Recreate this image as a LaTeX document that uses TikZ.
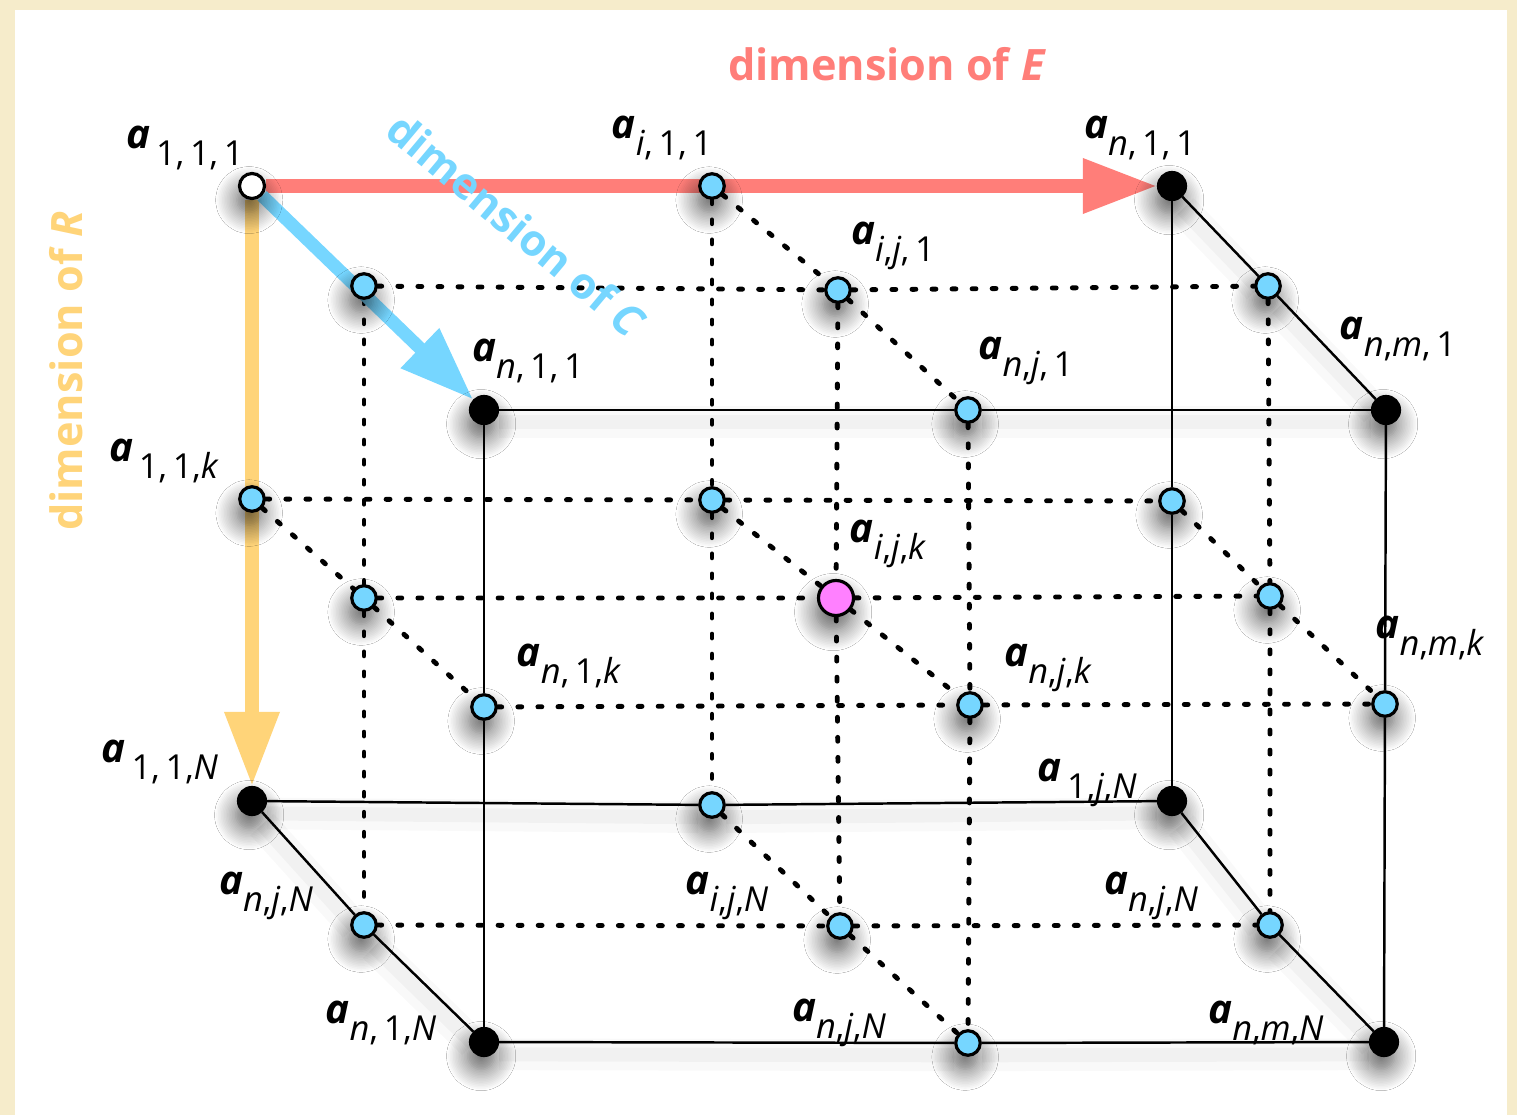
\documentclass[tikz,border=0pt]{standalone}
\usepackage{fontspec}
\setmainfont{Open Sans}
\usepackage{tikz}
\usetikzlibrary{arrows.meta, backgrounds, shadows.blur}
\definecolor{dimE}{HTML}{FF7E79}
\definecolor{dimR}{HTML}{FFD479}
\definecolor{dimC}{HTML}{76D6FF}
\definecolor{cellPink}{HTML}{FF80FF}
\definecolor{paper}{HTML}{F6ECCB}
\newcommand{\elem}[1]{{\fontsize{11.5}{12}\selectfont\bfseries\itshape a}\raisebox{-5pt}{\fontsize{9.8}{10}\selectfont #1}}
\newcommand{\vi}[1]{\textit{#1}}

\begin{document}
\begin{tikzpicture}[
    x=0.01cm, y=-0.01cm,
    ptblue/.style ={circle, draw=black, line width=0.9pt, fill=dimC, minimum size=0.245cm, inner sep=0pt,
                    blur shadow={shadow xshift=-0.8pt, shadow yshift=-4pt, shadow blur radius=6pt,
                                 shadow blur steps=14, shadow opacity=65}},
    ptblack/.style={ptblue, fill=black, minimum size=0.27cm},
    ptwhite/.style={ptblue, fill=white, minimum size=0.25cm},
    ptpink/.style ={ptblue, fill=cellPink, minimum size=0.35cm},
    solidln/.style={line width=0.7pt},
    solidsh/.style={solidln,
                    preaction={draw=black, draw opacity=0.025, line width=9pt, transform canvas={yshift=-3.5pt}},
                    preaction={draw=black, draw opacity=0.03, line width=4pt, transform canvas={yshift=-3.5pt}}},
    dotln/.style  ={line width=1.4pt, dash pattern=on 1.1pt off 4.6pt, line cap=round},
    dimarr/.style ={-{Triangle[length=7.4mm, width=5.2mm]}, line width=1.3mm},
    lbl/.style    ={inner sep=0pt},
    dimlbl/.style ={inner sep=0pt, font=\fontsize{12.3}{14}\selectfont\bfseries},
]
\useasboundingbox (0,0) rectangle (1517,1115);

% ---- back face ----
\node[ptwhite] (b11) at (252,186) {};
\node[ptblue]  (b21) at (712,186) {};
\node[ptblack] (b31) at (1172,186) {};
\node[ptblue]  (b12) at (252,499) {};
\node[ptblue]  (b22) at (712,500) {};
\node[ptblue]  (b32) at (1172,501) {};
\node[ptblack] (b13) at (252,801) {};
\node[ptblue]  (b23) at (712,805) {};
\node[ptblack] (b33) at (1172,801) {};

% ---- middle slice ----
\node[ptblue]  (m11) at (364,286) {};
\node[ptblue]  (m21) at (838,290) {};
\node[ptblue]  (m31) at (1268,286) {};
\node[ptblue]  (m12) at (364,598) {};
\node[ptpink]  (m22) at (836,598) {};
\node[ptblue]  (m32) at (1270,596) {};
\node[ptblue]  (m13) at (364,925) {};
\node[ptblue]  (m23) at (840,926) {};
\node[ptblue]  (m33) at (1270,925) {};

% ---- front face ----
\node[ptblack] (f11) at (484,410) {};
\node[ptblue]  (f21) at (968,410) {};
\node[ptblack] (f31) at (1386,410) {};
\node[ptblue]  (f12) at (484,707) {};
\node[ptblue]  (f22) at (970,705) {};
\node[ptblue]  (f32) at (1385,704) {};
\node[ptblack] (f13) at (484,1042) {};
\node[ptblue]  (f23) at (968,1043) {};
\node[ptblack] (f33) at (1384,1042) {};

\begin{scope}[on background layer]
  % paper
  \fill[paper] (0,0) rectangle (1517,1115);
  \fill[white] (15,10) rectangle (1507,1115);

  % ---- solid cube edges ----
  \draw[solidsh] (f11) -- (f21) -- (f31);
  \draw[solidsh] (f13) -- (f23) -- (f33);
  \draw[solidln] (f11) -- (f12) -- (f13);
  \draw[solidln] (f31) -- (f32) -- (f33);
  \draw[solidln] (b31) -- (b32) -- (b33);
  \draw[solidsh] (b13) -- (b23) -- (b33);
  \draw[solidsh] (b31) -- (m31) -- (f31);
  \draw[solidsh] (b13) -- (m13) -- (f13);
  \draw[solidsh] (b33) -- (m33) -- (f33);

  % ---- inner grid lines ----
  \draw[dotln] (m11) -- (m21) -- (m31);
  \draw[dotln] (b12) -- (b22) -- (b32);
  \draw[dotln] (m12) -- (m22) -- (m32);
  \draw[dotln] (f12) -- (f22) -- (f32);
  \draw[dotln] (m13) -- (m23) -- (m33);
  \draw[dotln] (m11) -- (m12) -- (m13);
  \draw[dotln] (b21) -- (b22) -- (b23);
  \draw[dotln] (m21) -- (m22) -- (m23);
  \draw[dotln] (f21) -- (f22) -- (f23);
  \draw[dotln] (m31) -- (m32) -- (m33);
  \draw[dotln] (b21) -- (m21) -- (f21);
  \draw[dotln] (b12) -- (m12) -- (f12);
  \draw[dotln] (b22) -- (m22) -- (f22);
  \draw[dotln] (b32) -- (m32) -- (f32);
  \draw[dotln] (b23) -- (m23) -- (f23);

  % ---- dimension arrows ----
  \draw[dimarr, dimE] (b11) -- (b31);
  \draw[dimarr, dimR] (b11) -- (b13);
  \draw[dimarr, dimC] (b11) -- (f11);
\end{scope}

% ---- dimension labels ----
\node[dimlbl, text=dimE] (dimE) at (887,64) {dimension of \textit{E}};
\node[dimlbl, text=dimR, rotate=90] (dimR) at (66,371) {dimension of \textit{R}};
\node[dimlbl, text=dimC, rotate=-40] (dimC) at (517,225) {dimension of \textit{C}};

% ---- element labels ----
\node[lbl] (l-b11) at (185,148)  {\elem{\,1,\,1,\,1}};
\node[lbl] (l-b21) at (662,138)  {\elem{\vi{i},\,1,\,1}};
\node[lbl] (l-b31) at (1140,138) {\elem{\vi{n},\,1,\,1}};
\node[lbl] (l-m21) at (893,246)  {\elem{\vi{i},\vi{j},\,1}};
\node[lbl] (l-f31) at (1398,339) {\elem{\vi{n},\vi{m},\,1}};
\node[lbl] (l-f11) at (528,361)  {\elem{\vi{n},\,1,\,1}};
\node[lbl] (l-f21) at (1026,361) {\elem{\vi{n},\vi{j},\,1}};
\node[lbl] (l-b12) at (164,461)  {\elem{\,1,\,1,\vi{k}}};
\node[lbl] (l-m22) at (888,544)  {\elem{\vi{i},\vi{j},\vi{k}}};
\node[lbl] (l-f12) at (569,666)  {\elem{\vi{n},\,1,\vi{k}}};
\node[lbl] (l-f22) at (1048,668) {\elem{\vi{n},\vi{j},\vi{k}}};
\node[lbl] (l-f32) at (1430,638) {\elem{\vi{n},\vi{m},\vi{k}}};
\node[lbl] (l-b13) at (160,762)  {\elem{\,1,\,1,\vi{N}}};
\node[lbl] (l-b33) at (1087,783) {\elem{\,1,\vi{j},\vi{N}}};
\node[lbl] (l-m13) at (266,896)  {\elem{\vi{n},\vi{j},\vi{N}}};
\node[lbl] (l-m23) at (727,896)  {\elem{\vi{i},\vi{j},\vi{N}}};
\node[lbl] (l-m33) at (1151,896) {\elem{\vi{n},\vi{j},\vi{N}}};
\node[lbl] (l-f13) at (381,1023) {\elem{\vi{n},\,1,\vi{N}}};
\node[lbl] (l-f23) at (839,1023) {\elem{\vi{n},\vi{j},\vi{N}}};
\node[lbl] (l-f33) at (1266,1023) {\elem{\vi{n},\vi{m},\vi{N}}};

\end{tikzpicture}
\end{document}
